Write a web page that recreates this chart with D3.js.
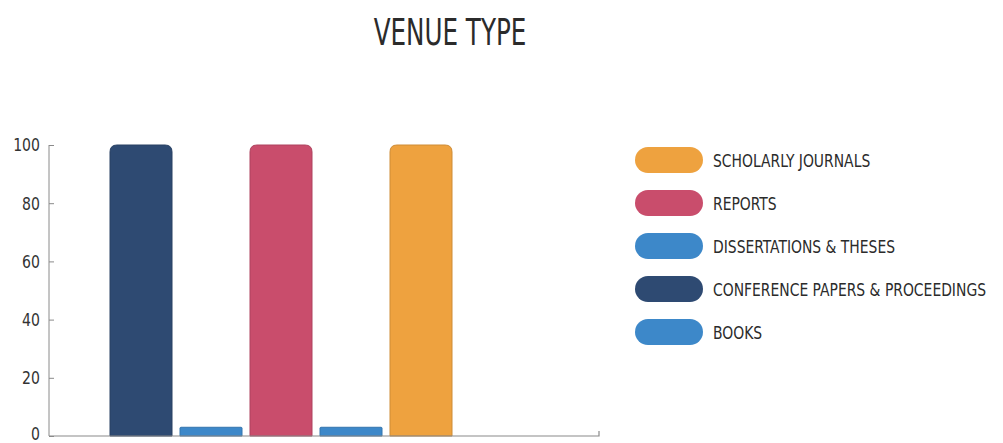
<!DOCTYPE html>
<html>
<head>
<meta charset="utf-8">
<script src="https://cdn.jsdelivr.net/npm/d3@7"></script>
<style>
  html, body { margin: 0; padding: 0; background: #fff; }
  svg { display: block; }
  text { font-family: "DejaVu Sans Condensed", "Liberation Sans Narrow", "Roboto", sans-serif; fill: #333; }
</style>
</head>
<body>
<svg id="chart" width="1003" height="443"></svg>
<script>
// Venue types in bar order, with their share values
const categories = ["Conference Papers & Proceedings", "Books", "Reports", "Dissertations & Theses", "Scholarly Journals"];
const values = [100, 3, 100, 3, 100];
const barColors = ["#2e4a72", "#3d88c9", "#c94d6c", "#3d88c9", "#eea23f"];

// Legend order (top to bottom)
const legendLabels = ["SCHOLARLY JOURNALS", "REPORTS", "DISSERTATIONS & THESES", "CONFERENCE PAPERS & PROCEEDINGS", "BOOKS"];
const legendColors = ["#eea23f", "#c94d6c", "#3d88c9", "#2e4a72", "#3d88c9"];

const yTicks = [0, 20, 40, 60, 80, 100];
const title = "VENUE TYPE";

const svg = d3.select("#chart");

const x = d3.scaleBand()
  .domain(categories)
  .range([110, 452])
  .paddingInner(8 / 70)
  .paddingOuter(0);

const y = d3.scaleLinear().domain([0, 100]).range([436, 145]);

// Title, in a tall narrow face
svg.append("text")
  .attr("transform", "translate(450,45) scale(0.74,1)")
  .attr("text-anchor", "middle")
  .style("font-size", "37px")
  .style("fill", "#2b2b2b")
  .text(title);

// Bars with rounded top corners
function topRounded(x0, y0, w, h, r) {
  r = Math.min(r, h, w / 2);
  return `M${x0},${y0 + h}V${y0 + r}Q${x0},${y0} ${x0 + r},${y0}H${x0 + w - r}Q${x0 + w},${y0} ${x0 + w},${y0 + r}V${y0 + h}Z`;
}

svg.append("g").selectAll("path")
  .data(categories)
  .join("path")
  .attr("d", (d, i) => {
    const h = y(0) - y(values[i]);
    return topRounded(x(d), y(values[i]), x.bandwidth(), h, values[i] > 10 ? 7 : 1);
  })
  .attr("fill", (d, i) => barColors[i])
  .attr("stroke", (d, i) => d3.color(barColors[i]).darker(0.4))
  .attr("stroke-width", 1);

// Y axis
const yAxis = d3.axisRight(y).tickValues(yTicks).tickSize(5).tickFormat(d3.format("d"));
const gy = svg.append("g").attr("transform", "translate(49,0)").call(yAxis);
gy.select(".domain").attr("stroke", "#8a8a8a").attr("d", `M0,${y(100)}V${y(0)}`);
gy.selectAll(".tick line").attr("stroke", "#8a8a8a");
gy.selectAll(".tick text")
  .attr("x", 0)
  .attr("dy", d => d === 0 ? "0.2em" : "0.35em")
  .attr("transform", "translate(-9,0) scale(0.92,1)")
  .attr("text-anchor", "end")
  .style("font-size", "17px")
  .style("fill", "#333");

// X axis baseline
svg.append("path")
  .attr("d", `M49,${y(0)}H599V${y(0) - 5}`)
  .attr("fill", "none")
  .attr("stroke", "#8a8a8a")
  .attr("stroke-width", 1.2);

// Legend
const lg = svg.append("g").selectAll("g")
  .data(legendLabels)
  .join("g")
  .attr("transform", (d, i) => `translate(635,${160 + i * 43})`);

lg.append("rect")
  .attr("x", 0).attr("y", -13)
  .attr("width", 68).attr("height", 26)
  .attr("rx", 13).attr("ry", 13)
  .attr("fill", (d, i) => legendColors[i]);

lg.append("text")
  .attr("transform", "translate(78,6.5) scale(0.86,1)")
  .style("font-size", "18px")
  .style("fill", "#2b2b2b")
  .text(d => d);
</script>
</body>
</html>
